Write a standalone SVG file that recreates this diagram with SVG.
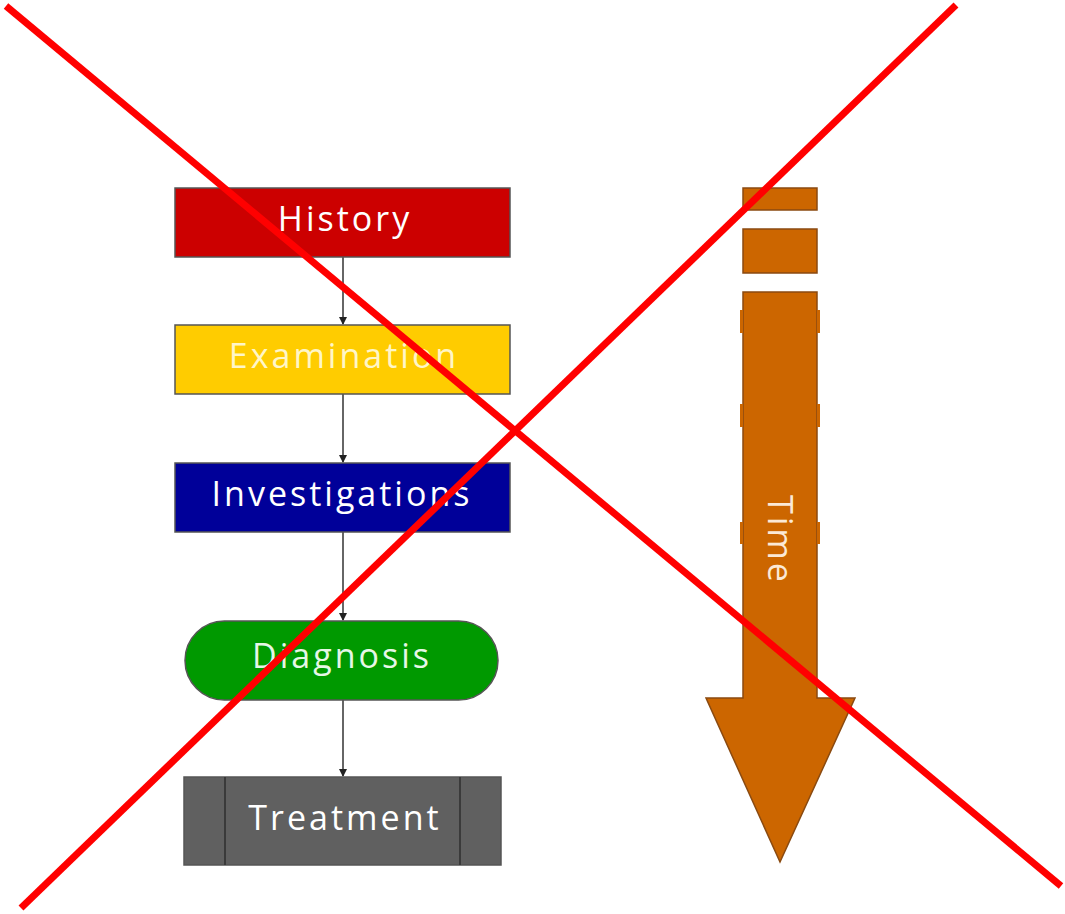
<svg xmlns="http://www.w3.org/2000/svg" width="1065" height="914" viewBox="0 0 1065 914">
<style>
.box{stroke:#555;stroke-width:1.5;}
.lbl{font-family:"Open Sans","DejaVu Sans",sans-serif;font-size:34px;letter-spacing:3px;fill:#fff;text-anchor:middle;}
.conn{stroke:#333;stroke-width:1.5;fill:none;}
.cross{stroke:#ff0000;stroke-width:7;stroke-linecap:butt;}
.time{fill:#cc6600;stroke:#8a4a10;stroke-width:1.5;}
.notch{fill:#cc6600;stroke:none;}
</style>
<defs>
<marker id="ah" markerWidth="8" markerHeight="8" refX="7" refY="4" orient="auto" markerUnits="userSpaceOnUse">
<path d="M0,0 L8,4 L0,8 Z" fill="#222"/>
</marker>
</defs>
<rect width="1065" height="914" fill="#fff"/>
<g id="connectors">
<line class="conn" x1="343" y1="257" x2="343" y2="324" marker-end="url(#ah)"/>
<line class="conn" x1="343" y1="394" x2="343" y2="462" marker-end="url(#ah)"/>
<line class="conn" x1="343" y1="532" x2="343" y2="620" marker-end="url(#ah)"/>
<line class="conn" x1="343" y1="700" x2="343" y2="776" marker-end="url(#ah)"/>
</g>
<g id="history">
<rect class="box" x="175" y="188" width="335" height="69" fill="#cc0000"/>
<text class="lbl" x="345" y="231">History</text>
</g>
<g id="examination">
<rect class="box" x="175" y="325" width="335" height="69" fill="#ffcc00"/>
<text class="lbl" x="344" y="368" style="fill:#fff6c8">Examination</text>
</g>
<g id="investigations">
<rect class="box" x="175" y="463" width="335" height="69" fill="#000099"/>
<text class="lbl" x="342" y="506">Investigations</text>
</g>
<g id="diagnosis">
<rect class="box" x="185" y="621" width="313" height="79" rx="39.5" ry="39.5" fill="#009900"/>
<text class="lbl" x="342" y="668" style="fill:#e6f7e6">Diagnosis</text>
</g>
<g id="treatment">
<rect class="box" x="184" y="777" width="317" height="88" fill="#606060"/>
<line x1="225" y1="777" x2="225" y2="865" stroke="#3a3a3a" stroke-width="2"/>
<line x1="460" y1="777" x2="460" y2="865" stroke="#3a3a3a" stroke-width="2"/>
<text class="lbl" x="345" y="830">Treatment</text>
</g>
<g id="time-arrow">
<rect class="time" x="743" y="188" width="74" height="22"/>
<rect class="time" x="743" y="229" width="74" height="44"/>
<path class="time" d="M743,292 L817,292 L817,698 L855,698 L780,862 L706,698 L743,698 Z"/>
<rect class="notch" x="740" y="310" width="3" height="23"/>
<rect class="notch" x="817" y="310" width="3" height="23"/>
<rect class="notch" x="740" y="404" width="3" height="23"/>
<rect class="notch" x="817" y="404" width="3" height="23"/>
<rect class="notch" x="740" y="522" width="3" height="22"/>
<rect class="notch" x="817" y="522" width="3" height="22"/>
<text class="lbl" transform="translate(768,540) rotate(90)" style="fill:#fbe9d6">Time</text>
</g>
<g id="cross">
<line class="cross" x1="6" y1="6" x2="1061" y2="886"/>
<line class="cross" x1="956" y1="5" x2="21" y2="908"/>
</g>
</svg>
